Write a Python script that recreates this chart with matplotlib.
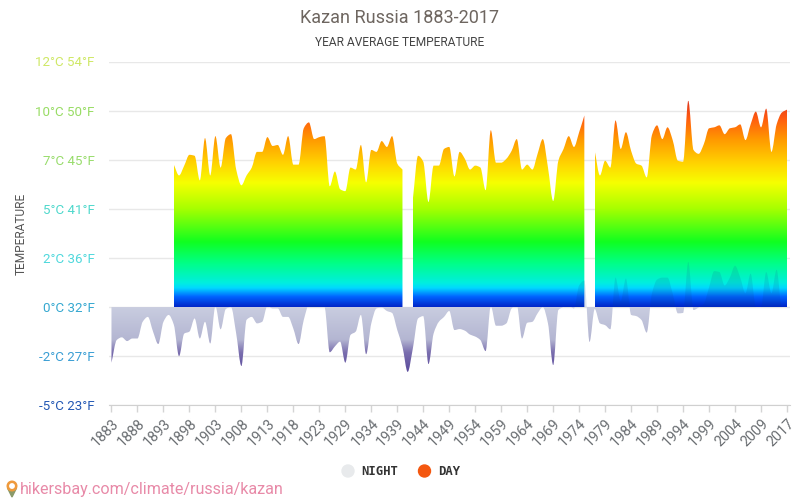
#!python
# -*- coding: utf-8 -*-
import numpy as np
import matplotlib
matplotlib.use("Agg")
import matplotlib.pyplot as plt
from matplotlib.colors import LinearSegmentedColormap
from matplotlib.path import Path
from matplotlib.patches import PathPatch, Circle, Polygon

# category axis: the source labels are not evenly spaced years
TICK_YEARS = [1883, 1888, 1893, 1898, 1903, 1908, 1913, 1918, 1923, 1929, 1934, 1939, 1944,
              1949, 1954, 1959, 1964, 1969, 1974, 1979, 1984, 1989, 1994, 1999, 2004, 2009, 2017]
Y_TICKS = [-5, -2.5, 0, 2.5, 5, 7.5, 10, 12.5]
Y_LABELS = ["-5°C 23°F", "-2°C 27°F", "0°C 32°F", "2°C 36°F", "5°C 41°F", "7°C 45°F", "10°C 50°F", "12°C 54°F"]
Y_COLORS = ["#2358b4", "#3a9ed4", "#35a8d0", "#4fd8dc", "#4fd8cc", "#98dc6c", "#98dc64", "#cfe866"]

# one value per category, starting at the 13th category (None = no data)
DAY_1 = [7.25, 6.7, 7.2, 7.75, 7.7, 6.45, 8.6, 6.7, 8.7, 7.1, 8.6, 8.8, 7.0, 6.2, 6.7, 7.1, 7.9, 7.9,
         8.65, 8.2, 8.25, 7.75, 8.7, 7.25, 7.25, 9.1, 9.4, 8.55, 8.65, 8.7, 6.15, 6.9, 6.0, 5.9, 7.1,
         7.0, 8.25, 6.35, 8.0, 7.9, 8.45, 8.15, 8.7, 7.3, 7.0]
DAY_2 = [5.5, 7.7, 7.4, 5.35, 7.2, 7.2, 8.05, 8.15, 6.65, 7.9, 7.55, 7.0, 7.2, 7.1, 5.95, 9.0, 7.35,
         7.35, 7.55, 7.95, 8.55, 7.0, 7.25, 7.0, 7.8, 8.55, 7.1, 5.4, 7.45, 8.05, 8.7, 8.15, 8.9, 9.75]
DAY_3 = [7.95, 6.7, 7.45, 7.1, 9.5, 8.05, 8.9, 7.95, 7.3, 7.2, 6.6, 8.75, 9.25, 8.55, 9.15, 8.5, 7.45,
         7.4, 10.5, 8.0, 7.8, 8.3, 9.1, 9.15, 9.25, 8.8, 9.1, 9.15, 9.3, 8.5, 9.3, 9.95, 9.15, 10.1,
         7.9, 9.3, 9.9, 10.05]
DAY_STARTS = [12, 58, 93]

NIGHT = [-2.83, -1.68, -1.54, -1.73, -1.6, -1.6, -0.75, -0.5, -1.25, -1.88, -0.75, -0.4, -0.9, -2.5,
         -1.35, -1.25, -0.58, -1.6, -0.75, -1.85, 0.05, -1.13, -0.1, 0.0, -1.35, -3.0, -0.65, -0.5,
         -0.83, -0.75, 0.05, -0.07, -0.07, -0.5, -0.5, -1.1, -1.88, -0.66, 0.1, 0.1, 0.07, 0.0, -2.3,
         -2.0, -1.76, -2.83, -1.42, -1.25, -0.4, -2.4, -0.83, -0.07, -0.02, -0.2, -0.3, -1.17, -2.03,
         -3.3, -2.1, -0.58, -0.46, -2.9, -1.34, -0.75, -0.5, -0.2, -1.17, -1.12, -1.2, -1.4, -1.5,
         -1.68, -2.24, 0.05, -0.95, -0.95, -0.83, -0.07, 0.1, -1.6, -0.8, -0.75, -0.32, 0.0, -0.83,
         -2.95, -0.15, 0.0, 0.05, -0.07, 1.1, 1.35, -1.77, -0.1, -0.83, -0.92, -1.13, 1.5, 0.3, 1.45,
         -0.4, -0.46, -0.66, -1.3, 0.68, 1.4, 1.5, 1.5, 0.68, -0.32, -0.3, 2.3, -0.15, -0.02, 0.17,
         1.0, 1.83, 1.78, 1.1, 1.5, 2.1, 1.5, 0.7, 1.7, 0.0, 0.0, 1.78, 0.7, 1.9, 0.0, 0.0]


def smooth_area(xs, ys, base=0.0):
    # monotone cubic outline (same curve type as the original chart)
    xs, ys = np.asarray(xs, float), np.asarray(ys, float)
    n = len(xs)
    h = np.diff(xs)
    d = np.diff(ys) / h
    m = np.zeros(n)
    m[0], m[-1] = d[0], d[-1]
    for i in range(1, n - 1):
        if d[i - 1] * d[i] > 0:
            m[i] = 2 * d[i - 1] * d[i] / (d[i - 1] + d[i])
    verts = [(xs[0], base), (xs[0], ys[0])]
    codes = [Path.MOVETO, Path.LINETO]
    for i in range(n - 1):
        verts += [(xs[i] + h[i] / 3, ys[i] + m[i] * h[i] / 3),
                  (xs[i + 1] - h[i] / 3, ys[i + 1] - m[i + 1] * h[i] / 3),
                  (xs[i + 1], ys[i + 1])]
        codes += [Path.CURVE4] * 3
    verts += [(xs[-1], base), (xs[0], base)]
    codes += [Path.LINETO, Path.CLOSEPOLY]
    return Path(verts, codes)


def gradient(ax, path, cmap, lo, hi, x0, x1, zorder, alpha=1.0):
    im = ax.imshow(np.linspace(0, 1, 512)[:, None], origin="lower", aspect="auto", cmap=cmap,
                   extent=(x0, x1, lo, hi), zorder=zorder, alpha=alpha, interpolation="bilinear")
    im.set_clip_path(PathPatch(path, transform=ax.transData))


plt.rcParams["font.family"] = ["Roboto", "DejaVu Sans"]
fig = plt.figure(figsize=(8, 5), dpi=100)
ax = fig.add_axes([109.4 / 800, 1 - 405.3 / 500, (789.6 - 109.4) / 800, (405.3 - 61.5) / 500])

# value -> colour for the day fill, from 0 to 10.6 degrees
lo_day, hi_day = 0.0, 10.6
day_stops = [(0.0, "#0026c8"), (0.5, "#0062ff"), (0.95, "#00d8ff"), (1.2, "#00eee0"), (2.2, "#00ff88"),
             (3.3, "#10ff20"), (5.0, "#a8ff00"), (6.3, "#f6ff00"), (7.2, "#ffd800"), (8.5, "#ff9a00"),
             (9.6, "#ff5a10"), (10.6, "#d8301f")]
day_cmap = LinearSegmentedColormap.from_list("day", [((v - lo_day) / (hi_day - lo_day), c) for v, c in day_stops])
night_cmap = LinearSegmentedColormap.from_list("night", [(0.0, "#5a4a9c"), (0.3, "#7a6eae"), (0.5, "#b4b6d2"), (1.0, "#c9cde0")])
over_cmap = LinearSegmentedColormap.from_list("over", ["#0b3f8c", "#1a6a90"])

for start, vals in zip(DAY_STARTS, [DAY_1, DAY_2, DAY_3]):
    xs = np.arange(start, start + len(vals))
    gradient(ax, smooth_area(xs, vals), day_cmap, lo_day, hi_day, xs[0], xs[-1], 2)

# night runs over the day fill: below zero opaque, above zero only a faint shade
cat = np.arange(len(NIGHT))
night_path = smooth_area(cat, NIGHT)
gradient(ax, night_path, night_cmap, -3.3, 0, 0, 130, 3)
gradient(ax, night_path, over_cmap, 0, 2.4, 0, 130, 3, alpha=0.15)

ax.set_xlim(-0.4, 130.5)
ax.set_ylim(-5, 12.5)
ax.set_yticks(Y_TICKS)
ax.set_yticklabels(Y_LABELS, fontsize=9.6)
for lab, c in zip(ax.get_yticklabels(), Y_COLORS):
    lab.set_color(c)
ax.tick_params(axis="y", length=0, pad=15)
for lab in ax.get_yticklabels():
    lab.set_x(0.009)
tick_pos = list(range(0, 130, 5)) + [130]
ax.set_xticks(tick_pos)
ax.set_xticklabels(TICK_YEARS, rotation=45, ha="right", rotation_mode="anchor", fontsize=10.4, color="#6a6e72")
ax.tick_params(axis="x", length=5, color="#d4d4d4", pad=3, width=1)
ax.grid(True, axis="y", color="#e8e8e8", lw=1, zorder=0)
ax.set_axisbelow(True)
for s in ["top", "right", "left"]:
    ax.spines[s].set_visible(False)
ax.spines["bottom"].set_color("#d0d0d0")

fig.text(400 / 800, 1 - 18 / 500, "Kazan Russia 1883-2017", ha="center", va="center", fontsize=13, color="#6e6660")
fig.text(400 / 800, 1 - 42 / 500, "YEAR AVERAGE TEMPERATURE", ha="center", va="center", fontsize=8.6, color="#444444")
fig.text(21 / 800, 1 - 233.5 / 500, "TEMPERATURE", rotation=90, ha="center", va="center", fontsize=8.6, color="#555555")

# legend and watermark are placed in pixel coordinates of the figure
ov = fig.add_axes([0, 0, 1, 1], facecolor="none")
ov.set_xlim(0, 800)
ov.set_ylim(500, 0)
ov.axis("off")
ov.add_patch(Circle((348, 471), 6, color="#e8eaec"))
ov.add_patch(Circle((424.5, 471), 6, color="#f4570f"))
ov.text(361, 471.5, "NIGHT", family="DejaVu Sans Mono", weight="bold", fontsize=8.8, color="#333333", va="center")
ov.text(438, 471.5, "DAY", family="DejaVu Sans Mono", weight="bold", fontsize=8.8, color="#333333", va="center")
ov.add_patch(Polygon([(7.5, 488), (16.5, 488), (12, 497)], color="#8a9a6a"))
ov.add_patch(Circle((12, 486), 4.8, color="#ef9a3c"))
ov.add_patch(Circle((12, 486), 2.2, color="#ffffff"))
ov.text(20, 489.5, "hikersbay.com/climate/russia/kazan", fontsize=11.6, color="#e88aa8", va="center")

fig.savefig("out.png", dpi=100)
